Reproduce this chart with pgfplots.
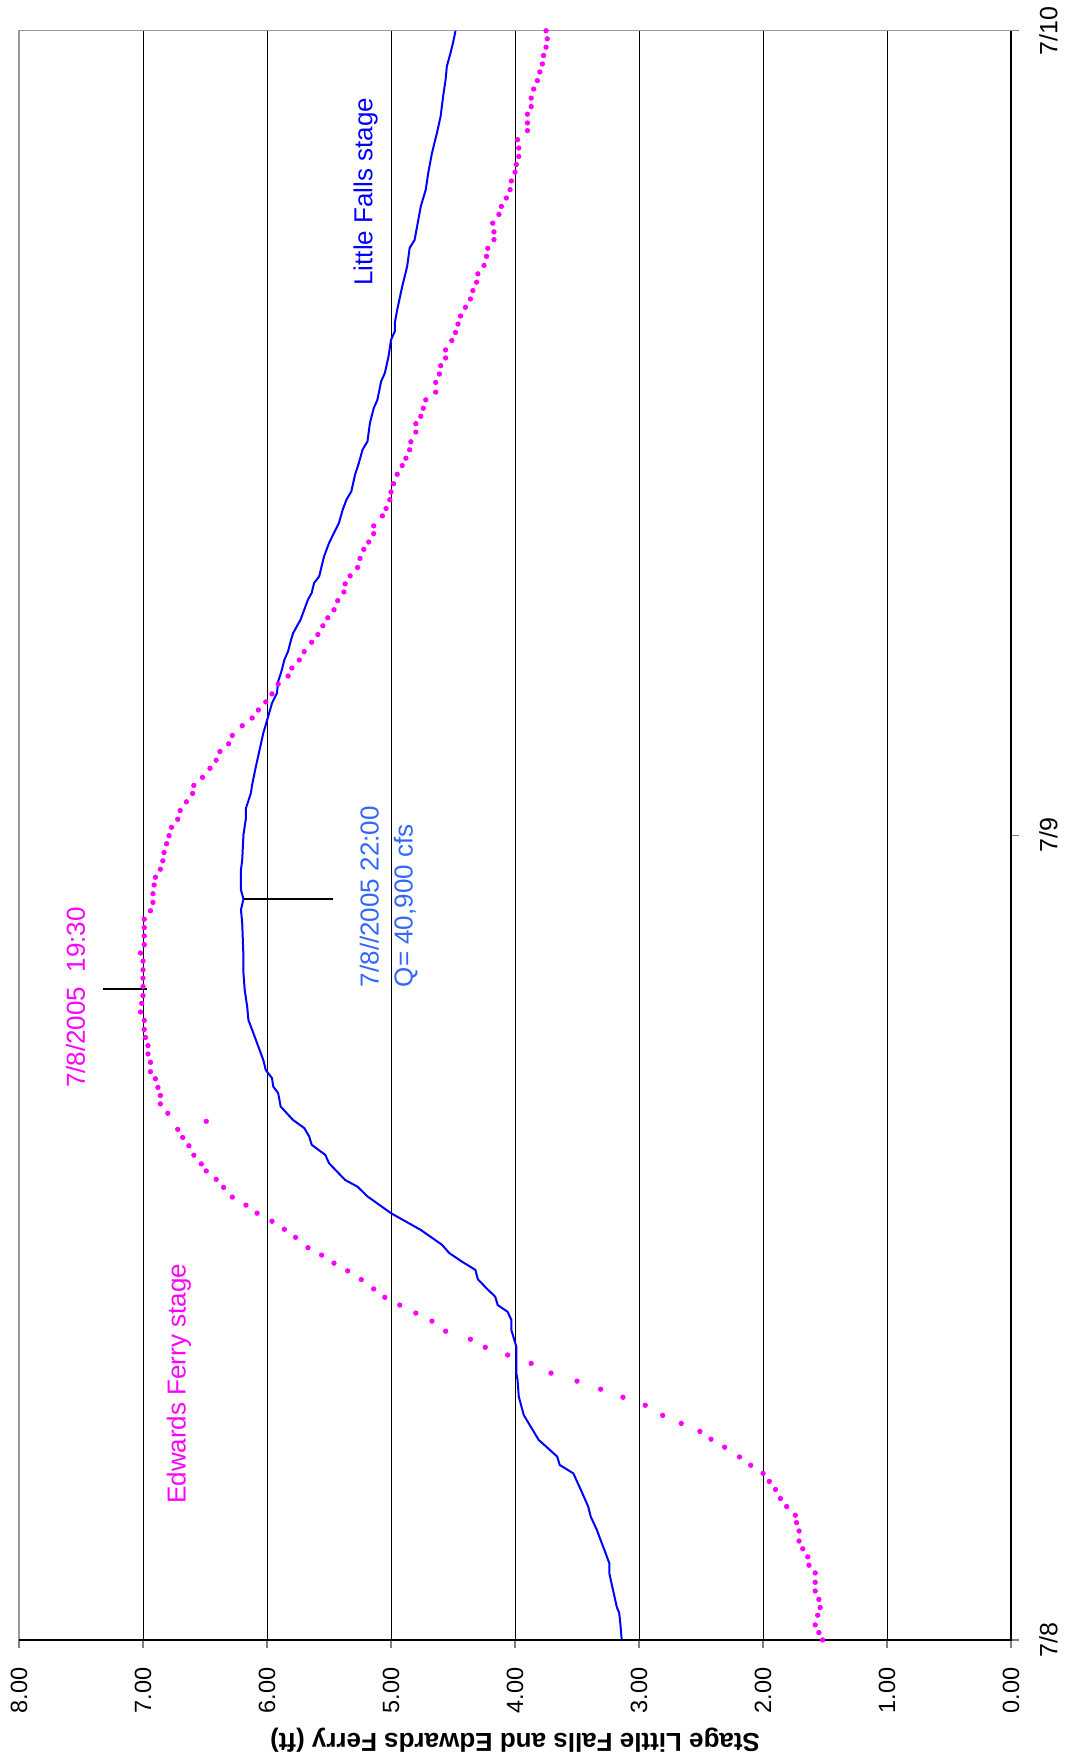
\documentclass[border=0pt]{standalone}
\usepackage{fontspec}
\setmainfont{Liberation Sans}
\usepackage{pgfplots}
\pgfplotsset{compat=1.18}
\definecolor{mag}{RGB}{255,0,255}
\definecolor{lfblue}{RGB}{0,0,255}
\definecolor{annblue}{RGB}{51,102,255}

\pgfplotstableread{
stage hours
3.14 0
3.15 0.45
3.16 0.80
3.18 0.99
3.21 1.49
3.24 1.99
3.24 2.29
3.28 2.69
3.31 2.98
3.34 3.28
3.39 3.68
3.41 3.98
3.47 4.48
3.53 4.97
3.64 5.22
3.66 5.47
3.81 5.97
3.93 6.71
3.97 7.26
3.98 7.76
3.99 7.96
3.99 8.75
4.03 9.25
4.03 9.55
4.06 9.79
4.14 9.99
4.16 10.24
4.23 10.49
4.30 10.76
4.32 11.04
4.43 11.29
4.53 11.54
4.59 11.79
4.76 12.23
5.00 12.73
5.19 13.23
5.27 13.52
5.37 13.72
5.50 14.22
5.53 14.47
5.64 14.77
5.66 15.02
5.70 15.27
5.79 15.51
5.89 15.91
5.91 16.31
5.95 16.51
5.96 16.76
6.01 17.00
6.03 17.30
6.08 17.80
6.12 18.20
6.15 18.49
6.16 18.89
6.18 19.39
6.19 19.89
6.19 20.38
6.20 21.38
6.21 21.78
6.19 22.10
6.21 22.37
6.21 22.97
6.20 23.27
6.19 24.02
6.17 24.51
6.17 24.81
6.13 25.26
6.12 25.51
6.09 26.05
6.06 26.55
6.03 27.05
6.01 27.30
5.96 27.94
5.92 28.24
5.91 28.59
5.88 28.94
5.86 29.24
5.83 29.49
5.81 29.78
5.79 30.03
5.73 30.43
5.70 30.73
5.67 31.03
5.64 31.23
5.62 31.53
5.58 31.72
5.56 32.02
5.54 32.32
5.50 32.72
5.46 33.02
5.42 33.32
5.39 33.71
5.36 34.01
5.32 34.26
5.29 34.76
5.26 35.10
5.23 35.50
5.19 35.75
5.17 36.30
5.14 36.74
5.11 36.99
5.08 37.54
5.05 37.79
5.02 38.29
5.00 38.78
4.97 39.03
4.97 39.28
4.95 39.68
4.91 40.37
4.87 40.97
4.85 41.52
4.81 41.76
4.78 42.36
4.76 42.76
4.72 43.26
4.70 43.76
4.67 44.35
4.63 44.95
4.60 45.45
4.58 46.04
4.56 46.54
4.55 46.94
4.52 47.34
4.50 47.64
4.48 48.00
}\littlefalls

\pgfplotstableread{
stage hours
1.52 0
1.55 0.22
1.58 0.45
1.56 0.74
1.54 0.97
1.55 1.21
1.58 1.46
1.58 1.72
1.58 2.00
1.63 2.23
1.64 2.48
1.68 2.72
1.71 2.95
1.71 3.25
1.73 3.50
1.74 3.72
1.81 3.98
1.86 4.22
1.90 4.49
1.95 4.73
2.00 4.97
2.10 5.21
2.19 5.46
2.31 5.75
2.42 5.99
2.51 6.22
2.66 6.46
2.81 6.70
2.95 7.00
3.13 7.24
3.31 7.48
3.50 7.72
3.71 7.96
3.87 8.25
4.06 8.50
4.24 8.73
4.36 8.97
4.56 9.21
4.67 9.51
4.80 9.75
4.93 9.99
5.05 10.22
5.14 10.47
5.24 10.75
5.35 11.01
5.46 11.24
5.56 11.48
5.67 11.70
5.77 12.01
5.86 12.25
5.96 12.49
6.08 12.73
6.17 12.97
6.28 13.21
6.35 13.50
6.41 13.74
6.49 13.99
6.53 14.20
6.59 14.46
6.63 14.74
6.68 14.99
6.72 15.23
6.49 15.47
6.80 15.71
6.86 15.99
6.86 16.24
6.88 16.48
6.90 16.74
6.94 16.95
6.94 17.23
6.96 17.48
6.96 17.73
6.98 17.97
6.99 18.21
6.99 18.48
7.02 18.73
7.01 18.99
7.00 19.22
7.00 19.49
7.00 19.74
7.00 19.99
7.00 20.25
7.02 20.49
6.99 20.74
6.99 21.00
6.99 21.25
6.99 21.50
6.94 21.75
6.92 22.00
6.92 22.26
6.91 22.52
6.90 22.75
6.86 22.99
6.84 23.24
6.83 23.49
6.81 23.75
6.79 23.99
6.77 24.24
6.72 24.48
6.70 24.74
6.65 25.00
6.60 25.25
6.59 25.49
6.52 25.73
6.46 26.00
6.41 26.24
6.38 26.50
6.31 26.73
6.28 26.98
6.20 27.27
6.12 27.50
6.07 27.74
6.01 27.98
5.96 28.22
5.91 28.51
5.83 28.75
5.80 28.99
5.74 29.23
5.70 29.48
5.64 29.76
5.59 29.99
5.55 30.25
5.51 30.49
5.46 30.73
5.43 31.00
5.38 31.26
5.37 31.50
5.33 31.74
5.27 31.99
5.25 32.26
5.22 32.53
5.18 32.75
5.14 33.00
5.14 33.23
5.07 33.53
5.04 33.75
5.01 34.01
5.00 34.24
4.98 34.49
4.95 34.77
4.91 35.03
4.88 35.25
4.85 35.50
4.84 35.74
4.80 36.03
4.80 36.28
4.76 36.50
4.74 36.74
4.72 36.99
4.64 37.22
4.64 37.51
4.61 37.76
4.60 38.01
4.56 38.24
4.56 38.48
4.51 38.76
4.48 39.00
4.46 39.25
4.44 39.49
4.40 39.75
4.36 40.00
4.34 40.25
4.31 40.50
4.30 40.75
4.25 41.00
4.23 41.27
4.22 41.51
4.17 41.77
4.17 42.00
4.18 42.26
4.13 42.52
4.11 42.76
4.07 43.01
4.04 43.26
4.03 43.52
4.00 43.78
3.99 44.01
3.97 44.25
3.97 44.50
3.98 44.75
3.90 45.02
3.90 45.25
3.90 45.51
3.87 45.74
3.87 45.99
3.85 46.26
3.82 46.51
3.80 46.77
3.78 47.01
3.77 47.26
3.75 47.51
3.74 47.76
3.75 48.00
}\edwards

\begin{document}
\begin{tikzpicture}
\begin{axis}[
  scale only axis, width=396.8pt, height=643.6pt,
  x dir=reverse, xmin=0, xmax=8, ymin=0, ymax=48,
  xtick={0,1,2,3,4,5,6,7,8},
  ytick={0,24,48}, yticklabels={7/8,7/9,7/10},
  xmajorgrids, major grid style={black, line width=0.4pt},
  axis line style={gray!80, line width=0.5pt},
  tick align=outside, xtick pos=bottom, ytick pos=right, yticklabel pos=right,
  major tick length=3.2pt, tick style={gray, line width=0.5pt},
  /pgf/number format/assume math mode=true,
  xticklabel={\pgfmathprintnumber[fixed,fixed zerofill,precision=2]{\tick}},
  xticklabel style={rotate=90, anchor=east, font=\fontsize{9.4}{11}\selectfont},
  xticklabel shift=4.4pt,
  yticklabel style={rotate=90, anchor=north, font=\fontsize{10}{12}\selectfont},
  yticklabel shift=4.5pt,
  xlabel={Stage Little Falls and Edwards Ferry (ft)},
  xlabel style={rotate=180, font=\bfseries\fontsize{10.4}{12}\selectfont,
    at={(axis description cs:0.5,-0.0622)}, anchor=center},
  clip=false,
]
\addplot[lfblue, line width=0.8pt, no markers] table[x=stage, y=hours] {\littlefalls};
\addplot[mag, only marks, mark=*, mark size=0.85pt] table[x=stage, y=hours] {\edwards};

\draw[black, line width=0.8pt] (axis cs:8,0) -- (axis cs:0,0) -- (axis cs:0,48);
\draw[black, line width=0.8pt] (axis cs:7.32,19.42) -- (axis cs:6.97,19.42);
\draw[black, line width=0.8pt] (axis cs:6.185,22.10) -- (axis cs:5.47,22.10);

\node[rotate=90, text=lfblue, font=\fontsize{10.4}{12}\selectfont] at (axis cs:5.205,43.2) {Little Falls stage};
\node[rotate=90, text=mag, font=\fontsize{10.4}{12}\selectfont] at (axis cs:6.71,7.64) {Edwards Ferry stage};
\node[rotate=90, text=mag, font=\fontsize{10.4}{12}\selectfont] at (axis cs:7.544,19.16) {7/8/2005\ \ 19:30};
\node[rotate=90, text=annblue, align=left, font=\fontsize{10.4}{13.6}\selectfont] at (axis cs:5.02,22.17) {7/8//2005 22:00\\Q= 40,900 cfs};

\coordinate (SW) at (axis cs:8,0);
\coordinate (NE) at (axis cs:0,48);
\end{axis}
\pgfresetboundingbox
\path[use as bounding box] ([xshift=-7.6pt,yshift=-49.2pt]SW) rectangle ([xshift=21.6pt,yshift=12.3pt]NE);
\end{tikzpicture}
\end{document}
